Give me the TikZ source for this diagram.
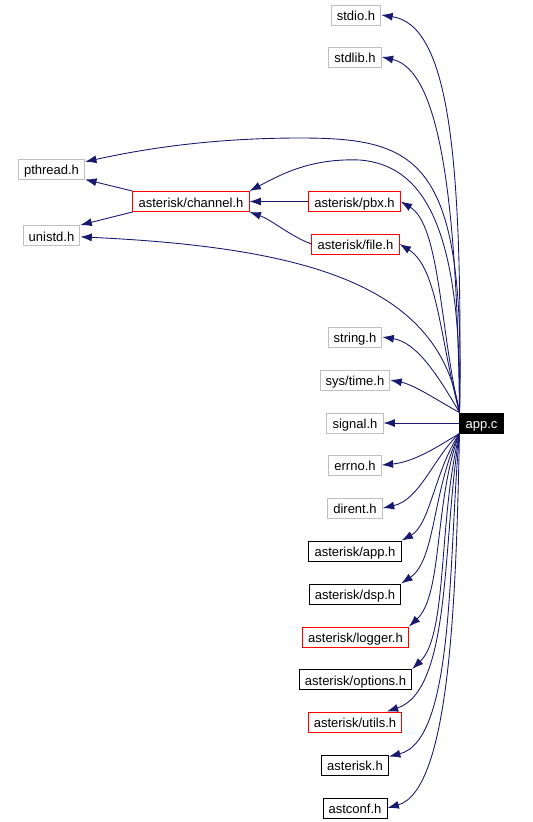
\documentclass[tikz,border=0pt]{standalone}
\usepackage{fontspec}
\setmainfont{Liberation Sans}
\usetikzlibrary{arrows.meta}
\definecolor{edgeblue}{HTML}{191970}
\definecolor{boxgray}{HTML}{BFBFBF}
\begin{document}
\begin{tikzpicture}[
      x=0.02cm, y=-0.02cm,
      every node/.style={font=\fontsize{7.4}{8}\selectfont},
      hdr/.style={draw=boxgray, fill=white, line width=0.55pt,
        minimum height=0.4cm, inner xsep=3.2pt, inner ysep=0pt,
        text height=1.45ex, text depth=0.25ex},
      hdrred/.style={hdr, draw=red},
      hdrblk/.style={hdr, draw=black},
      root/.style={hdr, draw=black, fill=black, text=white},
      inc/.style={draw=edgeblue, line width=0.5pt, -{Latex[length=6.5pt, width=4.6pt]}},
    ]
    \useasboundingbox (0,0) rectangle (533,822);

    \node[hdr] (stdio) at (356, 15) {stdio.h};
    \node[hdr] (stdlib) at (355, 57) {stdlib.h};
    \node[hdr] (pthread) at (51.5, 169) {pthread.h};
    \node[hdrred] (channel) at (191, 201.5) {asterisk/channel.h};
    \node[hdrred] (pbx) at (354.5, 201.5) {asterisk/pbx.h};
    \node[hdr] (unistd) at (51.5, 235.5) {unistd.h};
    \node[hdrred] (file) at (355.5, 244) {asterisk/file.h};
    \node[hdr] (string) at (355, 337) {string.h};
    \node[hdr] (systime) at (355, 380) {sys/time.h};
    \node[hdr] (signal) at (355, 423) {signal.h};
    \node[root] (app) at (481.5, 423) {app.c};
    \node[hdr] (errno) at (355, 465) {errno.h};
    \node[hdr] (dirent) at (355, 508) {dirent.h};
    \node[hdrblk] (apph) at (355, 551) {asterisk/app.h};
    \node[hdrblk] (dsph) at (355, 594) {asterisk/dsp.h};
    \node[hdrred] (logger) at (355.5, 637) {asterisk/logger.h};
    \node[hdrblk] (options) at (355.5, 679.5) {asterisk/options.h};
    \node[hdrred] (utils) at (355, 722) {asterisk/utils.h};
    \node[hdrblk] (asterisk) at (355, 765) {asterisk.h};
    \node[hdrblk] (astconf) at (355, 808) {astconf.h};

    \draw[inc] (app.north west) .. controls (463,150) and (448,25) .. (stdio.east);
    \draw[inc] (app.north west) .. controls (457,200) and (440,70) .. (stdlib.east);
    \draw[inc] (app.north west) .. controls (466,160) and (420,138) .. (300,138)
      .. controls (200,138) and (130,152) .. (pthread);
    \draw[inc] (app.north west) .. controls (462,220) and (420,165) .. (360,160)
      .. controls (310,158) and (280,175) .. (channel.north east);
    \draw[inc] (app.north west) .. controls (440,290) and (320,248) .. (unistd);
    \draw[inc] (app.north west) .. controls (440,330) and (440,225) .. (pbx.east);
    \draw[inc] (app.north west) .. controls (440,340) and (438,268) .. (file.east);
    \draw[inc] (app.north west) .. controls (435,370) and (415,342) .. (string.east);
    \draw[inc] (app.north west) .. controls (440,402) and (415,385) .. (systime.east);
    \draw[inc] (app) -- (signal);
    \draw[inc] (app.south west) .. controls (440,445) and (415,462) .. (errno.east);
    \draw[inc] (app.south west) .. controls (435,455) and (420,500) .. (dirent.east);
    \draw[inc] (app.south west) .. controls (435,470) and (430,525) .. (apph.north east);
    \draw[inc] (app.south west) .. controls (432,490) and (436,560) .. (dsph.north east);
    \draw[inc] (app.south west) .. controls (434,500) and (443,595) .. (logger.north east);
    \draw[inc] (app.south west) .. controls (438,520) and (448,635) .. (options.north east);
    \draw[inc] (app.south west) .. controls (442,540) and (452,690) .. (utils);
    \draw[inc] (app.south west) .. controls (448,560) and (455,740) .. (asterisk);
    \draw[inc] (app.south west) .. controls (456,600) and (450,790) .. (astconf.east);

    \draw[inc] (pbx) -- (channel);
    \draw[inc] (file.west) .. controls (290,236) and (272,220) .. (channel.south east);
    \draw[inc] (channel.north west) -- (pthread.south east);
    \draw[inc] (channel.south west) -- (unistd.north east);
  \end{tikzpicture}
\end{document}
